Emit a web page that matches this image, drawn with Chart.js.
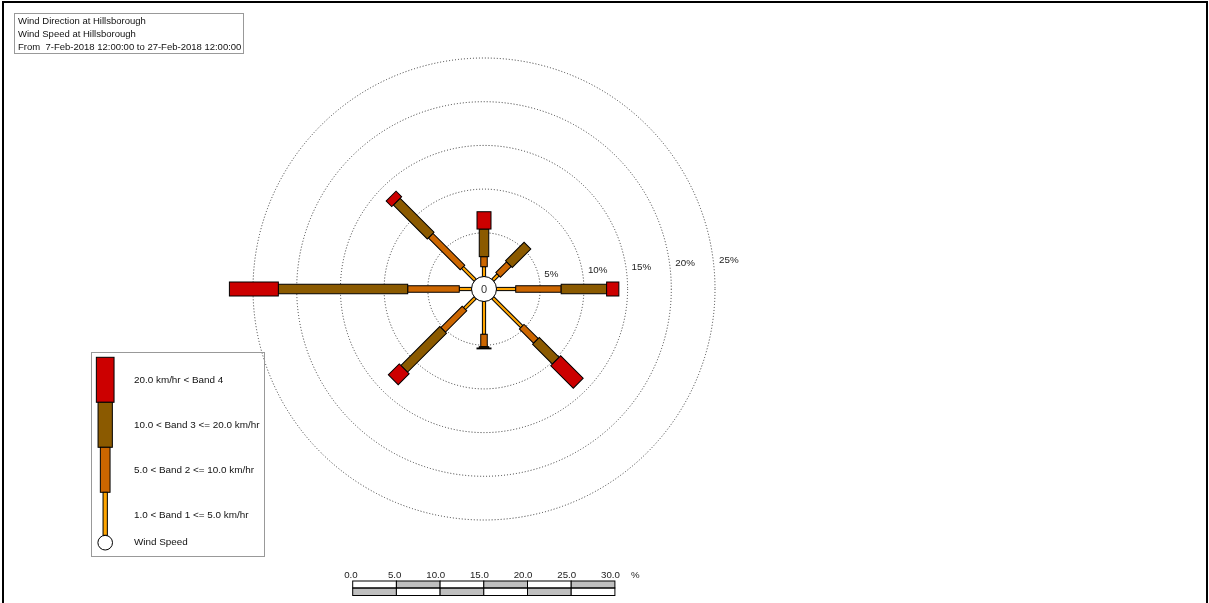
<!DOCTYPE html>
<html>
<head>
<meta charset="utf-8">
<script src="https://cdn.jsdelivr.net/npm/chart.js@4/dist/chart.umd.min.js"></script>
<style>
  body { margin: 0; background: #fff; }
  canvas { display: block; }
</style>
</head>
<body>
<canvas id="roseChart" width="1209" height="603"></canvas>
<script>
// directions, clockwise from north
const directions = ['N', 'NE', 'E', 'SE', 'S', 'SW', 'W', 'NW']
const directionAngles = [0, 45, 90, 135, 180, 225, 270, 315]

// percent of time per speed band
const band1 = [1.12, 0.85, 2.2, 4.67, 3.75, 1.73, 1.4, 2.05]
const band2 = [1.15, 1.75, 5.2, 2.3, 1.42, 3.45, 5.9, 5.15]
const band3 = [3.16, 3.0, 5.2, 3.2, 0.15, 6.3, 14.8, 5.5]
const band4 = [1.98, 0.0, 1.4, 3.65, 0.1, 1.77, 5.6, 0.9]
const calmPercent = 0

const bandLabels = ['1.0 < Band 1 <= 5.0 km/hr', '5.0 < Band 2 <= 10.0 km/hr', '10.0 < Band 3 <= 20.0 km/hr', '20.0 km/hr < Band 4']
const bandColors = ['#FFA500', '#CC6600', '#8B5A00', '#CC0000']

const ringTicks = [5, 10, 15, 20, 25]
const scaleBarTicks = ['0.0', '5.0', '10.0', '15.0', '20.0', '25.0', '30.0']

const titleLines = ['Wind Direction at Hillsborough', 'Wind Speed at Hillsborough', 'From  7-Feb-2018 12:00:00 to 27-Feb-2018 12:00:00']

// layout
const W = 1209, H = 603
const CX = 484, CY = 289
const PX_PER_PCT = 8.74
const CALM_PX = 12.5
const BAND_WIDTHS = [3.2, 6.5, 9.5, 14]
const FONT = '"Liberation Sans", Arial, sans-serif'

const bands = [band1, band2, band3, band4]

function font(size) {
  return size + 'px ' + FONT
}

const rosePlugin = {
  id: 'rose',
  beforeDatasetsDraw(chart) {
    const ctx = chart.ctx
    const xs = chart.scales.x
    const ys = chart.scales.y
    const cx = xs.getPixelForValue(0)
    const cy = ys.getPixelForValue(0)
    const ppu = xs.getPixelForValue(1) - cx
    const calmVal = CALM_PX / ppu

    function pt(angle, pct) {
      const a = angle * Math.PI / 180
      const rv = calmVal + pct
      return { x: xs.getPixelForValue(rv * Math.sin(a)), y: ys.getPixelForValue(rv * Math.cos(a)) }
    }

    ctx.save()

    // page frame
    ctx.strokeStyle = '#000'
    ctx.lineWidth = 2
    ctx.strokeRect(3, 2, 1204, 620)

    // title box
    ctx.lineWidth = 1
    ctx.strokeStyle = '#999'
    ctx.strokeRect(14.5, 13.5, 229, 40)
    ctx.fillStyle = '#111'
    ctx.font = font(9.5)
    ctx.textBaseline = 'middle'
    ctx.textAlign = 'left'
    titleLines.forEach((t, i) => ctx.fillText(t, 18, 21.5 + i * 12.8))

    // rings
    ctx.strokeStyle = '#333'
    ctx.lineWidth = 1
    ctx.setLineDash([1, 2])
    ringTicks.forEach(p => {
      const r = pt(90, p).x - cx
      ctx.beginPath()
      ctx.arc(cx, cy, r, 0, Math.PI * 2)
      ctx.stroke()
    })
    ctx.setLineDash([])

    // ring labels
    ctx.fillStyle = '#222'
    ctx.font = font(9.8)
    ctx.textAlign = 'left'
    ringTicks.forEach((p, i) => {
      const r = pt(90, p).x - cx
      ctx.fillText(p + '%', cx + r + 4, cy - 15 - 3.5 * i)
    })

    // rose bars
    ctx.strokeStyle = '#000'
    ctx.lineWidth = 1
    directionAngles.forEach((angle, d) => {
      let cum = 0
      bands.forEach((band, b) => {
        const v = band[d]
        if (v <= 0) return
        const p0 = pt(angle, cum)
        cum += v
        const p1 = pt(angle, cum)
        const len = Math.hypot(p1.x - p0.x, p1.y - p0.y)
        const w = BAND_WIDTHS[b]
        ctx.save()
        ctx.translate(p0.x, p0.y)
        ctx.rotate(Math.atan2(p1.y - p0.y, p1.x - p0.x))
        ctx.fillStyle = bandColors[b]
        ctx.fillRect(0, -w / 2, len, w)
        ctx.strokeRect(0, -w / 2, len, w)
        ctx.restore()
      })
    })

    // legend
    ctx.strokeStyle = '#999'
    ctx.strokeRect(91.5, 352.5, 173, 204)
    ctx.strokeStyle = '#000'
    const legW = [4.3, 9.7, 14.3, 17.7]
    for (let b = 3; b >= 0; b--) {
      const top = 357.3 + (3 - b) * 45
      const h = b === 0 ? 43 : 45
      ctx.fillStyle = bandColors[b]
      ctx.fillRect(105.2 - legW[b] / 2, top, legW[b], h)
      ctx.strokeRect(105.2 - legW[b] / 2, top, legW[b], h)
      ctx.fillStyle = '#111'
      ctx.font = font(9.9)
      ctx.fillText(bandLabels[b], 134, top + 23.4)
    }
    ctx.beginPath()
    ctx.arc(105.2, 542.7, 7.3, 0, Math.PI * 2)
    ctx.fillStyle = '#fff'
    ctx.fill()
    ctx.stroke()
    ctx.fillStyle = '#111'
    ctx.fillText('Wind Speed', 134, 542.7)

    // scale bar
    const seg = 5 * ppu
    const bx = 352.7
    ctx.lineWidth = 1
    for (let i = 0; i < 6; i++) {
      const x = bx + i * seg
      ctx.fillStyle = i % 2 === 0 ? '#fff' : '#BFBFBF'
      ctx.fillRect(x, 581, seg, 7)
      ctx.fillStyle = i % 2 === 0 ? '#BFBFBF' : '#fff'
      ctx.fillRect(x, 588, seg, 7.5)
      ctx.strokeRect(x, 581, seg, 7)
      ctx.strokeRect(x, 588, seg, 7.5)
    }
    ctx.fillStyle = '#222'
    ctx.font = font(9.7)
    ctx.textAlign = 'right'
    scaleBarTicks.forEach((t, i) => ctx.fillText(t, bx + i * seg + 5, 575))
    ctx.textAlign = 'left'
    ctx.fillText('%', 631, 575)

    ctx.restore()
  },
  afterDatasetsDraw(chart) {
    const ctx = chart.ctx
    const cx = chart.scales.x.getPixelForValue(0)
    const cy = chart.scales.y.getPixelForValue(0)
    ctx.save()
    ctx.fillStyle = '#333'
    ctx.font = font(11)
    ctx.textAlign = 'center'
    ctx.textBaseline = 'middle'
    ctx.fillText(String(calmPercent), cx, cy + 0.5)
    ctx.restore()
  }
}

const ctx = document.getElementById('roseChart').getContext('2d')
const chart = new Chart(ctx, {
  type: 'scatter',
  data: {
    datasets: [{
      label: 'Calm',
      data: [{ x: 0, y: 0 }],
      pointRadius: CALM_PX,
      pointBackgroundColor: '#fff',
      pointBorderColor: '#000',
      pointBorderWidth: 1,
      clip: false
    }]
  },
  options: {
    responsive: false,
    animation: false,
    events: [],
    layout: { padding: 0, autoPadding: false },
    plugins: { legend: { display: false }, tooltip: { enabled: false } },
    scales: {
      x: { type: 'linear', display: false, min: -CX / PX_PER_PCT, max: (W - CX) / PX_PER_PCT },
      y: { type: 'linear', display: false, min: -(H - CY) / PX_PER_PCT, max: CY / PX_PER_PCT }
    }
  },
  plugins: [rosePlugin]
})
</script>
</body>
</html>
